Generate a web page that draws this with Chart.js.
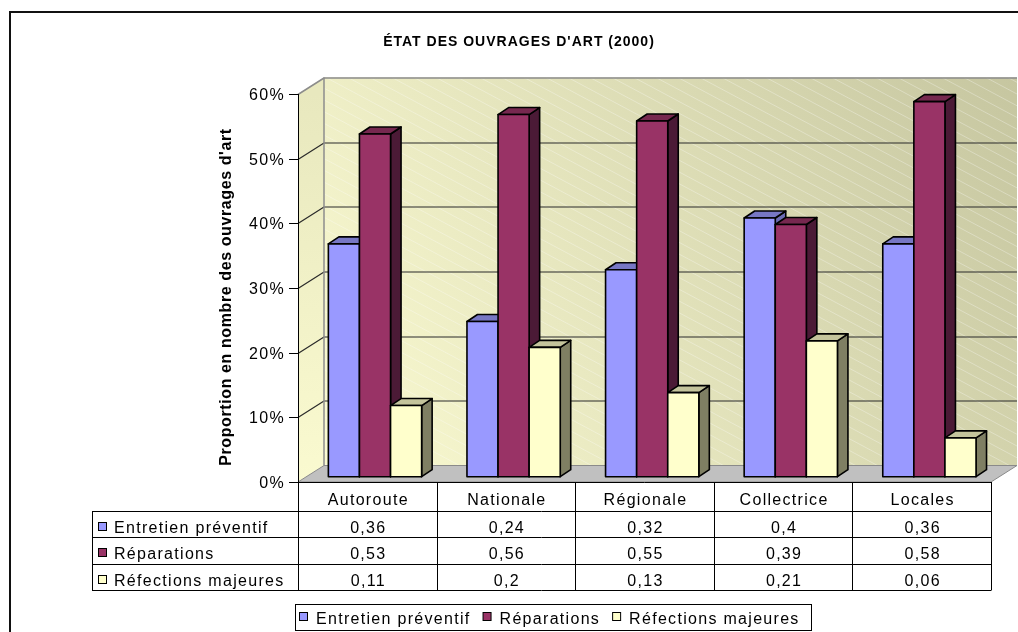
<!DOCTYPE html>
<html>
<head>
<meta charset="utf-8">
<script src="https://cdn.jsdelivr.net/npm/chart.js@4.4.1/dist/chart.umd.min.js"></script>
<style>
  html, body { margin:0; padding:0; background:#fff; }
  #wrap { width:1018px; height:632px; }
</style>
</head>
<body>
<div id="wrap"><canvas id="c" width="1018" height="632"></canvas></div>
<script>
// data
const categories = ['Autoroute', 'Nationale', 'Régionale', 'Collectrice', 'Locales'];
const seriesNames = ['Entretien préventif', 'Réparations', 'Réfections majeures'];
const entretien = [0.36, 0.24, 0.32, 0.4, 0.36];
const reparations = [0.53, 0.56, 0.55, 0.39, 0.58];
const refections = [0.11, 0.2, 0.13, 0.21, 0.06];
const yTicks = [0, 0.1, 0.2, 0.3, 0.4, 0.5, 0.6];

const title = "ÉTAT DES OUVRAGES D'ART (2000)";
const yTitle = "Proportion en nombre des ouvrages d'art";

const FONT = 'Arial, "Liberation Sans", sans-serif';
const frontColors = ['#9999ff', '#993366', '#ffffcc'];
const topColors = ['#7777c4', '#76284f', '#c4c49c'];
const sideColors = ['#6b6bb3', '#4b1a36', '#7f7f63'];

const WALL = { dx: 26, dy: -16.5 };      // depth of the 3d box
const SHIFT = { dx: 7.7, dy: -5.3 };     // bars sit in the middle of the floor
const DEPTH = { dx: 10.5, dy: -7 };      // depth of one bar

const pct = v => Math.round(v * 100) + '%';
const fr = v => String(v).replace('.', ',');

function poly(ctx, pts, fill, stroke, lw){
  ctx.beginPath();
  pts.forEach((p, i) => i ? ctx.lineTo(p[0], p[1]) : ctx.moveTo(p[0], p[1]));
  ctx.closePath();
  if(fill){ ctx.fillStyle = fill; ctx.fill(); }
  if(stroke){ ctx.strokeStyle = stroke; ctx.lineWidth = lw || 1; ctx.lineJoin = 'round'; ctx.stroke(); }
}

const box3d = {
  id: 'box3d',
  beforeDatasetsDraw(chart){
    const { ctx, chartArea: a, scales: { y } } = chart;
    const L = a.left, R = a.right, T = a.top, B = a.bottom, dx = WALL.dx, dy = WALL.dy;
    ctx.save();
    // back wall
    const g = ctx.createLinearGradient(L + dx, B + dy, R + dx, T + dy);
    g.addColorStop(0, '#fbfbd2');
    g.addColorStop(1, '#c6c6a0');
    ctx.fillStyle = g;
    ctx.fillRect(L + dx, T + dy, R - L, B - T);
    ctx.save();
    ctx.beginPath(); ctx.rect(L + dx, T + dy, R - L, B - T); ctx.clip();
    ctx.strokeStyle = 'rgba(255,255,255,0.3)'; ctx.lineWidth = 1;
    for(let x0 = L + dx - 900; x0 < R + dx; x0 += 22){
      ctx.beginPath(); ctx.moveTo(x0, T + dy); ctx.lineTo(x0 + 900, T + dy + 480); ctx.stroke();
    }
    ctx.restore();
    // side wall
    const gs = ctx.createLinearGradient(L, T, L, B);
    gs.addColorStop(0, '#e8e8be');
    gs.addColorStop(1, '#fafad0');
    poly(ctx, [[L, T], [L + dx, T + dy], [L + dx, B + dy], [L, B]], gs);
    // floor
    poly(ctx, [[L, B], [R, B], [R + dx, B + dy], [L + dx, B + dy]], '#c0c0c0', '#8a8a8a');
    // grid lines
    yTicks.forEach(v => {
      if(v === 0) return;
      const py = Math.round(y.getPixelForValue(v)) + 0.5;
      const top = v === yTicks[yTicks.length - 1];
      ctx.strokeStyle = top ? '#8c8c8c' : '#2a2a2a';
      ctx.lineWidth = top ? 1.5 : 1.2;
      ctx.beginPath();
      ctx.moveTo(L, py); ctx.lineTo(L + dx, py + dy); ctx.lineTo(R + dx, py + dy);
      ctx.stroke();
    });
    ctx.strokeStyle = '#8c8c8c'; ctx.lineWidth = 1.5;
    ctx.beginPath(); ctx.moveTo(L + dx, T + dy); ctx.lineTo(L + dx, B + dy); ctx.stroke();
    ctx.restore();
  },
  afterDatasetsDraw(chart){
    // bars drawn in series order so that each bar hides the side of the one on its left
    const ctx = chart.ctx;
    ctx.save();
    ctx.translate(SHIFT.dx, SHIFT.dy);
    chart.data.datasets.forEach((ds, i) => {
      chart.getDatasetMeta(i).data.forEach(el => {
        const { x, y, base, width } = el.getProps(['x', 'y', 'base', 'width'], true);
        const x1 = x - width / 2, x2 = x + width / 2, dx = DEPTH.dx, dy = DEPTH.dy;
        poly(ctx, [[x2, y], [x2 + dx, y + dy], [x2 + dx, base + dy], [x2, base]], sideColors[i], '#000', 1.6);
        poly(ctx, [[x1, y], [x1 + dx, y + dy], [x2 + dx, y + dy], [x2, y]], topColors[i], '#000', 1.6);
        poly(ctx, [[x1, y], [x2, y], [x2, base], [x1, base]], frontColors[i], '#000', 1.6);
      });
    });
    ctx.restore();
  },
  afterDraw(chart){
    const { ctx, chartArea: a, scales: { x, y } } = chart;
    const L = a.left, R = a.right, B = a.bottom;
    ctx.save();
    ctx.fillStyle = '#000';

    // front axis line and ticks
    ctx.strokeStyle = '#000'; ctx.lineWidth = 1;
    ctx.beginPath(); ctx.moveTo(L + 0.5, a.top); ctx.lineTo(L + 0.5, B); ctx.stroke();
    ctx.font = '16px ' + FONT;
    ctx.letterSpacing = '1.3px';
    ctx.textAlign = 'right'; ctx.textBaseline = 'middle';
    yTicks.forEach(v => {
      const py = Math.round(y.getPixelForValue(v)) + 0.5;
      ctx.beginPath(); ctx.moveTo(L - 9, py); ctx.lineTo(L, py); ctx.stroke();
      ctx.fillText(pct(v), L - 13, py + 1);
    });

    // title
    ctx.font = 'bold 14px ' + FONT;
    ctx.letterSpacing = '1px';
    ctx.textAlign = 'center';
    ctx.fillText(title, 519, 42);

    // y title
    ctx.save();
    ctx.translate(227, 297);
    ctx.rotate(-Math.PI / 2);
    ctx.font = 'bold 16px ' + FONT;
    ctx.letterSpacing = '0.6px';
    ctx.fillText(yTitle, 0, 0);
    ctx.restore();

    // data table
    const rows = [entretien, reparations, refections];
    const headH = 29, rowH = 26.4, labL = 92;
    const edges = categories.map((c, i) => L + (R - L) * i / categories.length).concat([R]);
    const yh = B + headH;
    ctx.lineWidth = 1; ctx.strokeStyle = '#000';
    ctx.beginPath();
    ctx.moveTo(L, B + 0.5); ctx.lineTo(R, B + 0.5);
    for(let r = 0; r <= rows.length; r++){
      const ry = Math.round(yh + r * rowH) + 0.5;
      ctx.moveTo(labL, ry); ctx.lineTo(R, ry);
    }
    const yEnd = Math.round(yh + rows.length * rowH) + 0.5;
    edges.forEach(ex => { const px = Math.round(ex) + 0.5; ctx.moveTo(px, B); ctx.lineTo(px, yEnd); });
    ctx.moveTo(labL + 0.5, yh); ctx.lineTo(labL + 0.5, yEnd);
    ctx.stroke();

    ctx.font = '16px ' + FONT;
    ctx.letterSpacing = '1.3px';
    ctx.textBaseline = 'alphabetic';
    ctx.textAlign = 'center';
    categories.forEach((c, i) => ctx.fillText(c, x.getPixelForValue(i) + 1, B + 23));
    rows.forEach((vals, r) => {
      const top = Math.round(yh + r * rowH);
      vals.forEach((v, i) => ctx.fillText(fr(v), x.getPixelForValue(i) + 1, top + 22));
    });
    ctx.textAlign = 'left';
    rows.forEach((vals, r) => {
      const top = Math.round(yh + r * rowH);
      ctx.fillStyle = frontColors[r];
      ctx.fillRect(98.5, top + 11.5, 8, 8);
      ctx.strokeRect(98.5, top + 11.5, 8, 8);
      ctx.fillStyle = '#000';
      ctx.fillText(seriesNames[r], 114, top + 22);
    });

    // legend
    ctx.strokeRect(295.5, 604.5, 516, 26);
    let lx = 299;
    seriesNames.forEach((n, r) => {
      ctx.fillStyle = frontColors[r];
      ctx.fillRect(lx + 0.5, 612.5, 8, 8);
      ctx.strokeRect(lx + 0.5, 612.5, 8, 8);
      ctx.fillStyle = '#000';
      ctx.fillText(n, lx + 17, 624);
      lx += 17 + ctx.measureText(n).width + 12;
    });

    // outer border
    ctx.lineWidth = 2; ctx.strokeStyle = '#111';
    ctx.strokeRect(10, 12, 1100, 700);
    ctx.restore();
  }
};

// front faces are painted by the plugin above, in series order
const datasets = [entretien, reparations, refections].map((d, i) => ({
  label: seriesNames[i],
  data: d,
  backgroundColor: 'rgba(0,0,0,0)',
  borderWidth: 0,
  categoryPercentage: 0.673,
  barPercentage: 1
}));

new Chart(document.getElementById('c'), {
  type: 'bar',
  data: { labels: categories, datasets },
  options: {
    responsive: false,
    animation: false,
    devicePixelRatio: 1,
    layout: { padding: { left: 298, top: 94, right: 27, bottom: 150 } },
    scales: {
      x: { display: false },
      y: { display: false, min: 0, max: 0.6, ticks: { stepSize: 0.1 } }
    },
    plugins: { legend: { display: false }, tooltip: { enabled: false } }
  },
  plugins: [box3d]
});
</script>
</body>
</html>
